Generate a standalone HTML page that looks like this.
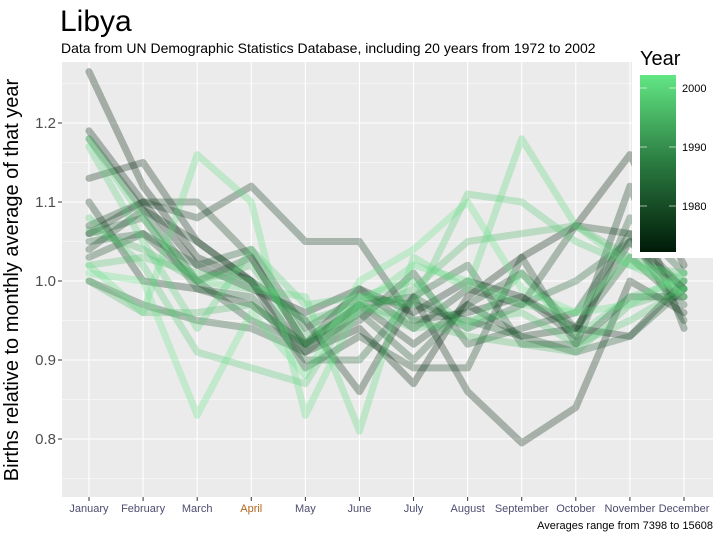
<!DOCTYPE html>
<html><head><meta charset="utf-8"><style>
body{margin:0;background:#fff;}
svg{display:block;font-family:"Liberation Sans",sans-serif;}
</style></head><body>
<svg id="chart" width="720" height="540" viewBox="0 0 720 540" xmlns="http://www.w3.org/2000/svg">
<text x="60" y="31" font-size="30" fill="#000">Libya</text>
<text x="61" y="53" font-size="14" fill="#000">Data from UN Demographic Statistics Database, including 20 years from 1972 to 2002</text>
<rect x="62" y="62" width="651" height="435" fill="#ebebeb"/>
<g id="grid"></g>
<g id="lines"></g>
<g id="yticks"></g>
<g id="xticks"></g>
<text transform="translate(18,280) rotate(-90)" text-anchor="middle" font-size="20" fill="#000">Births relative to monthly average of that year</text>
<text x="713" y="529" text-anchor="end" font-size="11" fill="#000">Averages range from 7398 to 15608</text>
<g>
<rect x="632" y="40" width="82" height="218" fill="#fff"/>
<text x="640" y="65" font-size="20" fill="#000">Year</text>
<defs><linearGradient id="lg" x1="0" y1="1" x2="0" y2="0"><stop offset="0" stop-color="#001a08"/><stop offset="0.5" stop-color="#2a7a40"/><stop offset="1" stop-color="#62e683"/></linearGradient></defs>
<rect x="640" y="75" width="36" height="177" fill="url(#lg)"/>
<g id="legticks"></g>
</g>
</svg>
<script>
const months=["January","February","March","April","May","June","July","August","September","October","November","December"];
const years=[1972,1973,1974,1975,1976,1977,1978,1979,1980,1981,1982,1983,1995,1996,1997,1998,1999,2000,2001,2002];
const s1972=[1.265,1.12,1.03,1.00,0.91,0.94,0.87,0.98,1.03,1.07,1.16,1.02];
const s1973=[1.19,1.10,1.02,0.99,0.96,0.99,0.96,1.00,0.98,0.94,0.93,1.00];
const s1974=[1.13,1.15,1.05,1.00,0.95,0.86,0.98,0.86,0.795,0.84,1.00,0.96];
const s1975=[1.10,1.00,0.99,0.97,0.92,0.97,0.92,0.97,0.93,0.94,1.05,0.99];
const s1976=[1.06,1.10,1.08,1.12,1.05,1.05,0.95,0.96,0.98,0.93,1.12,0.94];
const s1977=[1.04,1.09,1.05,1.00,0.89,0.93,0.89,0.89,1.03,0.92,0.98,0.98];
const s1978=[1.07,1.10,1.10,1.03,0.92,0.99,0.94,0.99,0.97,1.07,1.06,0.99];
const s1979=[1.03,1.06,1.00,0.95,0.92,0.95,1.01,0.92,0.94,0.96,1.06,0.95];
const s1980=[1.00,0.97,0.95,0.94,0.91,0.96,0.90,0.97,1.01,0.94,1.03,0.97];
const s1981=[1.18,1.09,1.00,1.03,0.92,0.97,0.98,1.02,0.92,0.92,1.08,1.01];
const s1982=[1.05,1.06,1.02,1.04,0.94,0.98,0.97,0.95,0.93,0.91,0.93,0.99];
const s1983=[1.06,1.08,0.99,0.98,0.90,0.90,0.98,0.94,0.97,1.00,1.05,0.98];
const s1995=[1.065,1.04,1.00,1.02,0.93,0.96,0.99,1.05,1.06,1.07,1.03,1.00];
const s1996=[1.00,0.96,0.96,0.97,0.92,0.97,0.95,0.93,0.92,0.91,0.97,0.99];
const s1997=[1.02,1.03,1.01,1.00,0.95,0.97,0.94,0.95,0.96,0.92,0.95,0.99];
const s1998=[1.08,1.02,0.91,0.89,0.87,0.98,0.97,1.11,1.10,1.05,1.02,1.01];
const s1999=[1.17,1.05,0.94,1.04,0.97,0.98,1.00,0.94,1.01,0.93,0.98,1.00];
const s2000=[1.18,1.08,1.00,0.99,0.98,0.81,1.03,0.99,1.18,1.07,1.02,0.99];
const s2001=[1.02,0.96,1.16,1.10,0.83,0.97,1.02,1.00,0.97,0.96,0.97,1.01];
const s2002=[1.01,1.00,0.83,0.96,0.88,1.00,1.04,1.10,0.99,0.96,1.03,0.98];
const series=[s1972,s1973,s1974,s1975,s1976,s1977,s1978,s1979,s1980,s1981,s1982,s1983,s1995,s1996,s1997,s1998,s1999,s2000,s2001,s2002];
const yTicks=[0.8,0.9,1.0,1.1,1.2];
const legendTicks=[1980,1990,2000];

const NS="http://www.w3.org/2000/svg";
const x=i=>89+i*(684-89)/11;
const y=v=>281-(v-1)*790;
const ly=yr=>206-(yr-1980)*5.9;
function mk(tag,attrs,parent){const e=document.createElementNS(NS,tag);for(const k in attrs)e.setAttribute(k,attrs[k]);parent.appendChild(e);return e;}
const grid=document.getElementById('grid');
for(let k=0;k<yTicks.length;k++){
  const l=mk('line',{x1:62,x2:713,y1:y(yTicks[k]),y2:y(yTicks[k]),stroke:'#fff','stroke-width':1.1},grid);
  
  
}
for(let k=0;k<=yTicks.length;k++){
  const v=0.75+k*0.1;
  const l=mk('line',{x1:62,x2:713,y1:y(v),y2:y(v),stroke:'#fff','stroke-width':0.5},grid);
  
  
}
months.forEach((m,i)=>{
  const l=mk('line',{x1:x(i),x2:x(i),y1:62,y2:497,stroke:'#fff','stroke-width':1.1},grid);
  
  
});
function col(yr){
  const t=(yr-1972)/30;
  const a=[0,26,8],m=[42,122,64],b=[98,230,131];
  let c;
  if(t<0.5){const u=t/0.5;c=a.map((v,j)=>Math.round(v+(m[j]-v)*u));}
  else{const u=(t-0.5)/0.5;c=m.map((v,j)=>Math.round(v+(b[j]-v)*u));}
  return `rgb(${c[0]},${c[1]},${c[2]})`;
}
const lines=document.getElementById('lines');
series.forEach((s,k)=>{
  const p=mk('polyline',{points:s.map((v,i)=>x(i)+','+y(v)).join(' '),fill:'none',stroke:col(years[k]),'stroke-opacity':0.3,'stroke-width':7,'stroke-linejoin':'round','stroke-linecap':'round'},lines);
  
  
});
const yt=document.getElementById('yticks');
yTicks.forEach(v=>{
  const t=mk('text',{x:56,y:y(v)+5,'text-anchor':'end','font-size':15,fill:'#4d4d4d'},yt);
  t.textContent=v.toFixed(1);
  
  
  mk('line',{x1:58,x2:62,y1:y(v),y2:y(v),stroke:'#333','stroke-width':1},yt);
});
const xt=document.getElementById('xticks');
months.forEach((m,i)=>{
  const t=mk('text',{x:x(i),y:512,'text-anchor':'middle','font-size':11,fill:m==="April"?'#b5651d':'#4d4d70'},xt);
  t.textContent=m;
  
  
  mk('line',{x1:x(i),x2:x(i),y1:497,y2:501,stroke:'#333','stroke-width':1},xt);
});
const lt=document.getElementById('legticks');
legendTicks.forEach(yr=>{
  mk('line',{x1:640,x2:647,y1:ly(yr),y2:ly(yr),stroke:'#fff','stroke-opacity':0.6},lt);
  mk('line',{x1:669,x2:676,y1:ly(yr),y2:ly(yr),stroke:'#fff','stroke-opacity':0.6},lt);
  const t=mk('text',{x:682,y:ly(yr)+4,'font-size':11,fill:'#000'},lt);
  t.textContent=yr;
  
  
});
</script>
</body></html>
